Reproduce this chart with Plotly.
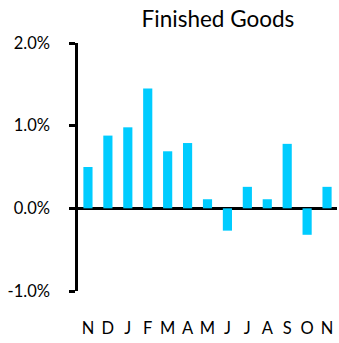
import plotly.graph_objects as go

# Month-over-month change, finished goods (percent)
months = ["N", "D", "J", "F", "M", "A", "M", "J", "J", "A", "S", "O", "N"]
changes = [0.50, 0.88, 0.98, 1.45, 0.69, 0.79, 0.11, -0.27, 0.26, 0.11, 0.78, -0.32, 0.26]
y_ticks = [-1.0, 0.0, 1.0, 2.0]
y_labels = ["-1.0%", "0.0%", "1.0%", "2.0%"]

positions = list(range(len(months)))

fig = go.Figure(
    go.Bar(
        x=positions,
        y=changes,
        marker=dict(color="#00CCFF", line=dict(width=0)),
    )
)

font_family = "Lato, Open Sans, sans-serif"

fig.update_layout(
    width=339,
    height=343,
    margin=dict(l=78, r=2, t=43, b=52),
    paper_bgcolor="white",
    plot_bgcolor="white",
    bargap=0.54,
    showlegend=False,
    font=dict(family=font_family, color="black", size=16),
    title=dict(
        text="Finished Goods",
        font=dict(family=font_family, size=22.5, color="black"),
        x=0.643,
        xanchor="center",
        y=0.945,
        yanchor="middle",
    ),
)

fig.update_xaxes(
    range=[-0.5, len(months) - 0.5],
    tickmode="array",
    tickvals=positions,
    ticktext=months,
    showgrid=False,
    showline=False,
    zeroline=False,
    ticks="",
    ticklabelstandoff=25,
    tickfont=dict(size=16.5),
)

fig.update_yaxes(
    range=[-1.0, 2.0],
    tickmode="array",
    tickvals=y_ticks,
    ticktext=y_labels,
    showgrid=False,
    showline=True,
    linecolor="black",
    linewidth=2.5,
    ticks="outside",
    ticklen=6,
    tickwidth=2.5,
    tickcolor="black",
    ticklabelstandoff=16,
    zeroline=True,
    zerolinecolor="black",
    zerolinewidth=2.5,
    tickfont=dict(size=16.5),
)

fig.write_html("out.html")
